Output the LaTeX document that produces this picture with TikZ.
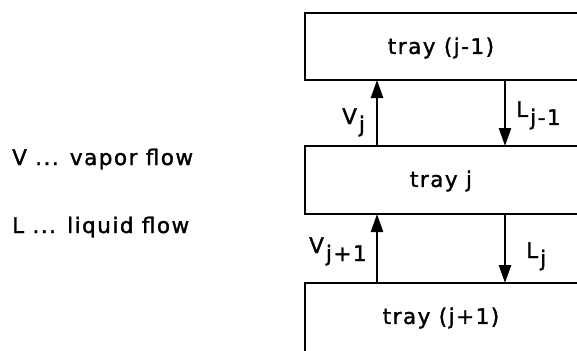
\documentclass[tikz,border=0pt]{standalone}
\usepackage{fontspec}
\setmainfont{DejaVu Sans}[LetterSpace=7,FakeBold=1.5]
\usetikzlibrary{arrows.meta}
\tikzset{
  trayline/.style={line width=2.8pt},
  flow/.style={line width=2.6pt,-{Triangle[length=18pt,width=12pt]}},
  txt/.style={font=\fontsize{21.5}{24}\selectfont, inner sep=0pt, anchor=base west},
  ctxt/.style={font=\fontsize{21.5}{24}\selectfont, inner sep=0pt},
}
\newcommand{\sbs}[1]{\hspace{2pt}\raisebox{-8pt}{#1}}
\begin{document}
\begin{tikzpicture}[x=1pt,y=-1pt]
\clip (0,0) rectangle (577,350);
\fill[white] (0,0) rectangle (577,350);
% trays (right sides run beyond the picture)
\coordinate (t1nw) at (305,13);
\coordinate (t1sw) at (305,80);
\coordinate (t2nw) at (305,146);
\coordinate (t2sw) at (305,214);
\coordinate (t3nw) at (305,283);
\coordinate (t3sw) at (305,360);
\draw[trayline] (600,13) -- (t1nw) -- (t1sw) -- (600,80);
\draw[trayline] (600,146) -- (t2nw) -- (t2sw) -- (600,214);
\draw[trayline] (600,283) -- (t3nw) -- (t3sw);
\node[ctxt] (tr1) at (441,48) {tray (j-1)};
\node[ctxt] (tr2) at (441,181) {tray j};
\node[ctxt] (tr3) at (441,318) {tray (j+1)};
% flows
\coordinate (v1b) at ([xshift=72pt]t2nw);
\coordinate (v1t) at ([xshift=72pt]t1sw);
\coordinate (l1t) at ([xshift=200pt]t1sw);
\coordinate (l1b) at ([xshift=200pt]t2nw);
\coordinate (v2b) at ([xshift=72pt]t3nw);
\coordinate (v2t) at ([xshift=72pt]t2sw);
\coordinate (l2t) at ([xshift=200pt]t2sw);
\coordinate (l2b) at ([xshift=200pt]t3nw);
\draw[flow] (v1b) -- (v1t);
\draw[flow] (l1t) -- (l1b);
\draw[flow] (v2b) -- (v2t);
\draw[flow] (l2t) -- (l2b);
\node[txt] (vj) at (342,124) {V\sbs{j}};
\node[txt] (lj1) at (516,117) {L\sbs{j-1}};
\node[txt] (vj1) at (309,253) {V\sbs{j+1}};
\node[txt] (lj) at (526,258) {L\sbs{j}};
% legend
\node[txt] (legv) at (12,165) {V ... vapor flow};
\node[txt] (legl) at (12,233) {L ... liquid flow};
\end{tikzpicture}
\end{document}
